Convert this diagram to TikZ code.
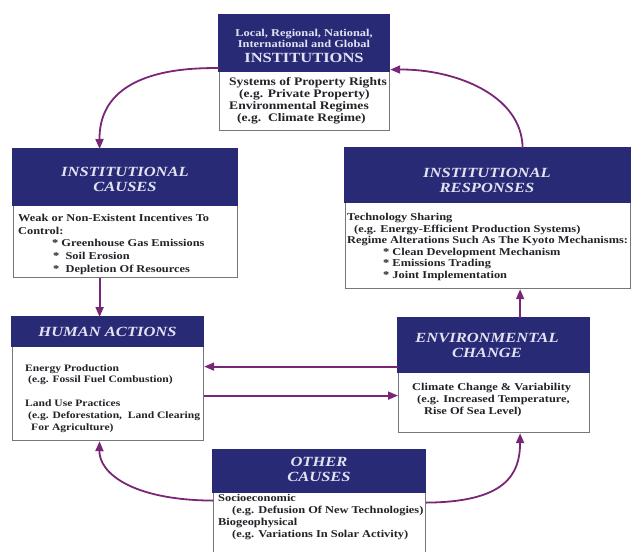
\documentclass[tikz,border=0pt]{standalone}
\usepackage{fontspec}
\setmainfont{Liberation Serif}[FakeStretch=1.18]
\usetikzlibrary{arrows.meta}

\definecolor{hdrblue}{RGB}{40,42,118}
\definecolor{flowpurple}{RGB}{122,38,118}
\definecolor{bodyink}{RGB}{34,34,40}
\definecolor{frameink}{RGB}{118,118,124}
\definecolor{hdrink}{RGB}{226,226,242}

\tikzset{
  panel/.style={draw=frameink, line width=1.2pt, fill=white, inner sep=0pt,
    anchor=north west, rectangle},
  hdrtext/.style={text=hdrink, font=\fontsize{14}{15}\selectfont\bfseries\itshape,
    align=center, inner sep=0pt},
  bodytext/.style={text=bodyink, font=\fontsize{10.5}{11.6}\selectfont\bfseries,
    align=left, inner sep=0pt, anchor=north west},
  flow/.style={draw=flowpurple, line width=1.8pt,
    -{Triangle[length=10pt,width=8pt]}},
}

\begin{document}
\begin{tikzpicture}[x=1pt,y=-1pt]
\useasboundingbox (0,0) rectangle (636,551);

% ---------- panels ----------
\node[panel, minimum width=170pt, minimum height=115pt] (inst)   at (219,15)  {};
\node[panel, minimum width=224pt, minimum height=128pt] (icause) at (13,149)  {};
\node[panel, minimum width=285pt, minimum height=140pt] (iresp)  at (345,148) {};
\node[panel, minimum width=191pt, minimum height=123pt] (human)  at (12,317)  {};
\node[panel, minimum width=191pt, minimum height=114pt] (env)    at (398,318) {};
\node[panel, minimum width=212pt, minimum height=106pt] (other)  at (213,450) {};

% ---------- header bands ----------
\fill[hdrblue] (218.4,14.4) rectangle (389.6,72);
\fill[hdrblue] (12.4,148.4) rectangle (237.6,206);
\fill[hdrblue] (344.4,147.4) rectangle (630.6,203);
\fill[hdrblue] (11.4,316.4) rectangle (203.6,347);
\fill[hdrblue] (397.4,317.4) rectangle (589.6,373);
\fill[hdrblue] (212.4,449.4) rectangle (425.6,493);

% ---------- header texts ----------
\node[hdrtext, font=\fontsize{10.5}{11.5}\selectfont\bfseries, anchor=north] (inst-h) at (304,29)
  {Local, Regional, National,\\International and Global\\[3pt]{\fontsize{14}{15}\selectfont INSTITUTIONS}};
\node[hdrtext] (icause-h) at (125,179.5) {INSTITUTIONAL\\CAUSES};
\node[hdrtext] (iresp-h)  at (487,180.5) {INSTITUTIONAL\\RESPONSES};
\node[hdrtext] (human-h)  at (107.5,332) {HUMAN ACTIONS};
\node[hdrtext] (env-h)    at (487,345.5) {ENVIRONMENTAL\\CHANGE};
\node[hdrtext] (other-h)  at (319,469.5) {OTHER\\CAUSES};

% ---------- body texts ----------
\node[bodytext, font=\fontsize{11.5}{12}\selectfont\bfseries] (inst-b) at (229,77.5)
  {Systems of Property Rights\\
   \hspace*{10pt}(e.g. Private Property)\\
   Environmental Regimes\\
   \hspace*{8pt}(e.g.\ \ Climate Regime)};
\node[bodytext, font=\fontsize{10.5}{12.7}\selectfont\bfseries] (icause-b) at (18,214)
  {Weak or Non-Existent Incentives To\\
   Control:\\
   \hspace*{34pt}* Greenhouse Gas Emissions\\
   \hspace*{35pt}*\ \ Soil Erosion\\
   \hspace*{35pt}*\ \ Depletion Of Resources};
\node[bodytext, font=\fontsize{10.5}{11.6}\selectfont\bfseries] (iresp-b) at (347,213)
  {Technology Sharing\\
   \hspace*{7pt}(e.g. Energy-Efficient Production Systems)\\
   Regime Alterations Such As The Kyoto Mechanisms:\\
   \hspace*{36pt}* Clean Development Mechanism\\
   \hspace*{36pt}* Emissions Trading\\
   \hspace*{36pt}* Joint Implementation};
\node[bodytext, font=\fontsize{9.8}{11.8}\selectfont\bfseries] (human-b) at (25,364)
  {Energy Production\\
   \hspace*{3pt}(e.g. Fossil Fuel Combustion)\\[12pt]
   Land Use Practices\\
   \hspace*{3pt}(e.g. Deforestation,\ \ Land Clearing\\
   \hspace*{6pt}For Agriculture)};
\node[bodytext] (env-b) at (412,383.5)
  {Climate Change \& Variability\\
   \hspace*{5pt}(e.g. Increased Temperature,\\
   \hspace*{12pt}Rise Of Sea Level)};
\node[bodytext, font=\fontsize{10.5}{12}\selectfont\bfseries] (other-b) at (218,494.5)
  {Socioeconomic\\
   \hspace*{14pt}(e.g. Defusion Of New Technologies)\\
   Biogeophysical\\
   \hspace*{14pt}(e.g. Variations In Solar Activity)};

% ---------- connectors ----------
\coordinate (c3) at ([xshift=-26pt]icause.south);
\coordinate (c4) at ([xshift=26pt]env.north);
\coordinate (c5) at ([yshift=9pt]env.west);
\coordinate (c6) at ([yshift=-20pt]env.west);

\draw[flow] ([yshift=5pt]inst.west) .. controls (140,67) and (99,92) .. ([xshift=-26pt]icause.north);
\draw[flow] ([xshift=34.5pt]iresp.north) .. controls (522,95) and (455,69) .. ([yshift=3.5pt]inst.east);
\draw[flow] (c3) -- (c3 |- human.north);
\draw[flow] (c4) -- (c4 |- iresp.south);
\draw[flow] (c5) -- (c5 -| human.east);
\draw[flow] (c6 -| human.east) -- (c6);
\draw[flow] ([yshift=3pt]other.west) .. controls (130,500) and (99,472) .. ([xshift=-8.5pt]human.south);
\draw[flow] ([yshift=1pt]other.east) .. controls (505,502) and (520,475) .. ([xshift=26pt]env.south);
\end{tikzpicture}
\end{document}
